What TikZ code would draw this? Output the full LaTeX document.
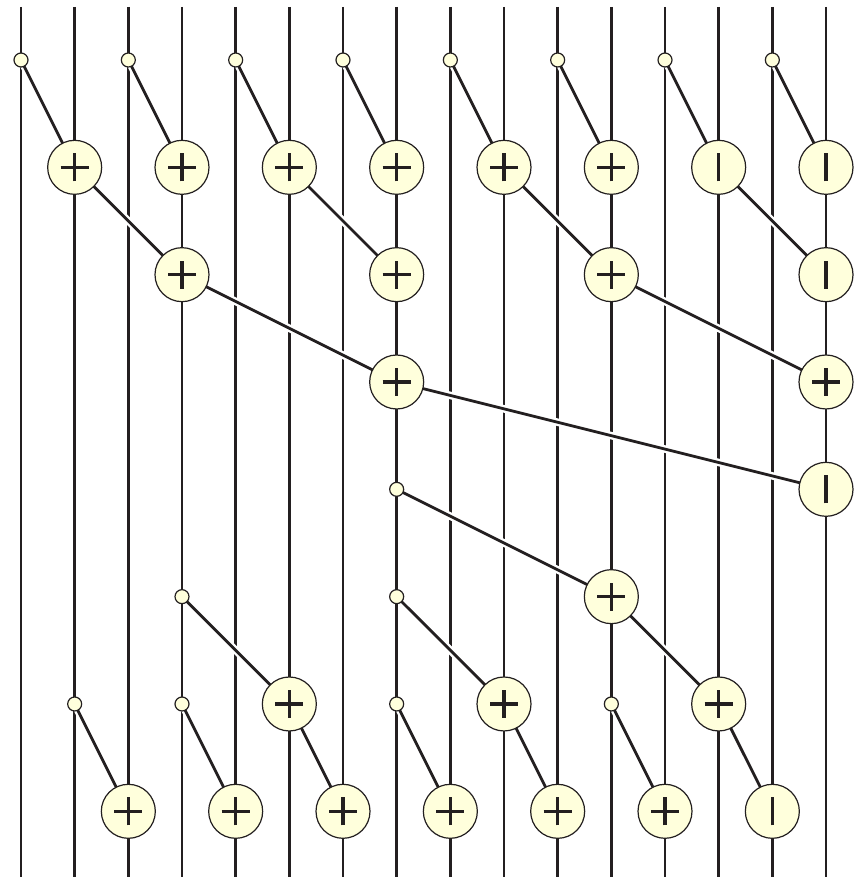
\documentclass[tikz,border=0pt]{standalone}
\begin{document}
\begin{tikzpicture}[x=1pt,y=-1pt,
  ink/.style={line width=2.9pt, draw={rgb,255:red,35;green,31;blue,32}},
  wire/.style={ink},
  link/.style={ink, line width=2.8pt, preaction={draw=white, line width=7.5pt}},
  opc/.style={circle, minimum size=54pt, inner sep=0pt, fill={rgb,255:red,255;green,255;blue,220}, draw={rgb,255:red,35;green,31;blue,32}, line width=1.2pt},
  dotc/.style={circle, minimum size=14pt, inner sep=0pt, fill={rgb,255:red,255;green,255;blue,220}, draw={rgb,255:red,35;green,31;blue,32}, line width=1.2pt},
  sym/.style={line width=3.1pt, draw={rgb,255:red,35;green,31;blue,32}}
]
\useasboundingbox (0,0) rectangle (863,877);
\def\cx#1{21+53.667*#1}
\def\ry#1{60+107.33*#1}
% vertical wires
\foreach \i in {0,...,15} {
  \coordinate (top\i) at ({\cx{\i}},7);
  \coordinate (bot\i) at ({\cx{\i}},877);
  \draw[wire] (top\i) -- (bot\i);
}
% positions
\foreach \c/\r/\n in {0/0/d00,2/0/d02,4/0/d04,6/0/d06,8/0/d08,10/0/d010,12/0/d012,14/0/d014,
  1/1/c11,3/1/c13,5/1/c15,7/1/c17,9/1/c19,11/1/c111,13/1/c113,15/1/c115,
  3/2/c23,7/2/c27,11/2/c211,15/2/c215,
  7/3/c37,15/3/c315,
  15/4/c415,7/4/d47,
  11/5/c511,3/5/d53,7/5/d57,
  5/6/c65,9/6/c69,13/6/c613,1/6/d61,3/6/d63,7/6/d67,11/6/d611,
  2/7/c72,4/7/c74,6/7/c76,8/7/c78,10/7/c710,12/7/c712,14/7/c714}
  { \coordinate (p\n) at ({\cx{\c}},{\ry{\r}}); }
% links (center to center, covered by nodes later)
\foreach \a/\b in {d00/c11,d02/c13,d04/c15,d06/c17,d08/c19,d010/c111,d012/c113,d014/c115,
  c11/c23,c15/c27,c19/c211,c113/c215,
  c23/c37,c211/c315,
  c37/c415,
  d47/c511,
  d53/c65,d57/c69,c511/c613,
  d61/c72,d63/c74,c65/c76,d67/c78,c69/c710,d611/c712,c613/c714}
  { \draw[link] (p\a) -- (p\b); }
% dots
\foreach \n in {d00,d02,d04,d06,d08,d010,d012,d014,d47,d53,d57,d61,d63,d67,d611}
  { \node[dotc] (\n) at (p\n) {}; }
% plus operators
\foreach \n in {c11,c13,c15,c17,c19,c111,c23,c27,c211,c37,c315,c511,c65,c69,c613,c72,c74,c76,c78,c710,c712}
  { \node[opc] (\n) at (p\n) {};
    \draw[sym] ([xshift=-14pt]\n.center) -- ([xshift=14pt]\n.center);
    \draw[sym] ([yshift=-14pt]\n.center) -- ([yshift=14pt]\n.center); }
% bar operators
\foreach \n in {c113,c115,c215,c415,c714}
  { \node[opc] (\n) at (p\n) {};
    \draw[sym] ([yshift=-14pt]\n.center) -- ([yshift=14pt]\n.center); }
\end{tikzpicture}
\end{document}
